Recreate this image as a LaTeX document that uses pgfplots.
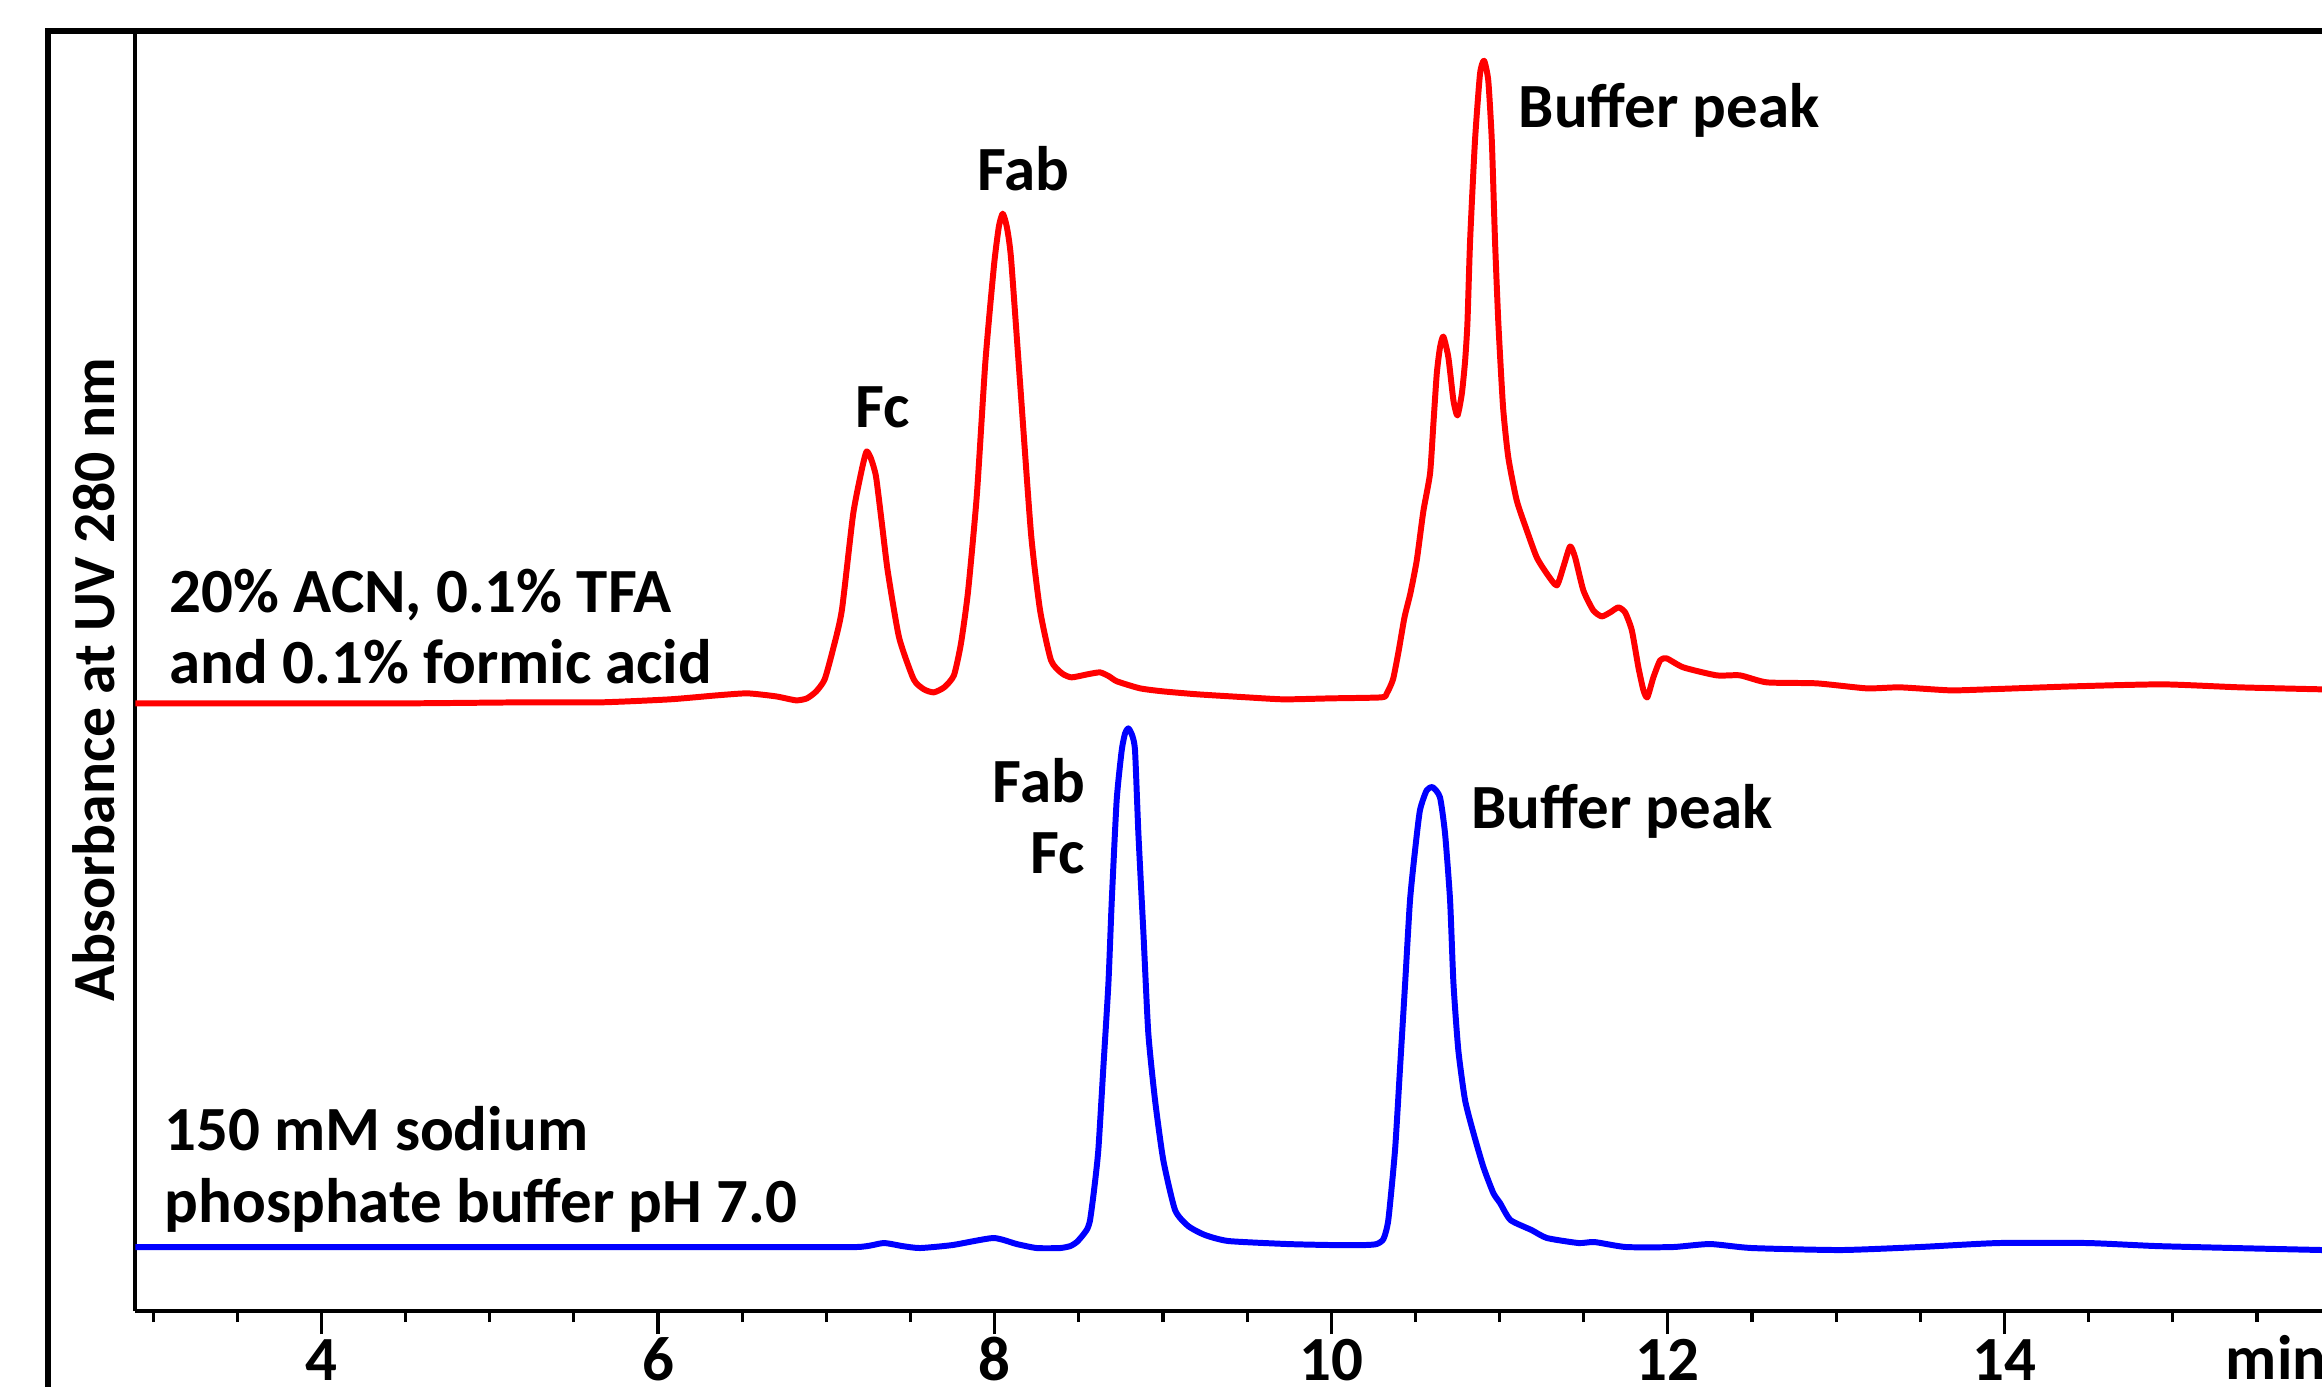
\documentclass[border=0pt]{standalone}
\usepackage{fontspec}
\setmainfont{Carlito}
\usepackage{pgfplots}
\pgfplotsset{compat=1.18}
\usepackage{pgfplotstable}

\newcommand{\lbl}{\fontsize{17.9}{20.4}\selectfont\bfseries}
\newcommand{\ylbl}{\fontsize{17}{20}\selectfont\bfseries}

% Chromatogram, 20% ACN / 0.1% TFA / 0.1% formic acid (offset trace)
\pgfplotstableread{
t v
2.894 608
3.5 608
4.5 608
5.2 609
5.66 609
6.07 612
6.35 616
6.53 618
6.7 615
6.82 611
6.885 613
6.94 620
6.99 632
7.041 663
7.092 701
7.159 797
7.212 843
7.239 860
7.265 853
7.295 835
7.33 788
7.365 740
7.432 674
7.519 632
7.58 622
7.638 619
7.70 624
7.758 636
7.80 668
7.842 720
7.894 816
7.945 950
7.996 1046
8.025 1085
8.048 1098
8.072 1085
8.097 1054
8.15 931
8.216 778
8.27 701
8.335 651
8.40 638
8.457 634
8.55 637
8.626 639
8.68 635
8.727 630
8.864 623
9.0 620
9.208 617
9.5 614
9.719 612
10.0 613
10.299 614
10.33 618
10.367 632
10.40 660
10.435 694
10.47 718
10.508 751
10.547 800
10.587 838
10.607 888
10.627 938
10.646 964
10.666 975
10.696 954
10.726 911
10.75 896
10.776 918
10.795 950
10.809 988
10.825 1071
10.854 1171
10.884 1238
10.908 1251
10.933 1231
10.954 1171
10.973 1071
10.993 988
11.021 904
11.052 854
11.102 811
11.162 781
11.221 754
11.28 738
11.34 726
11.38 745
11.419 765
11.449 754
11.498 721
11.557 701
11.607 695
11.657 699
11.706 704
11.746 699
11.786 681
11.825 644
11.855 621
11.878 614
11.914 634
11.954 651
11.993 653
12.092 644
12.29 636
12.429 636
12.588 629
12.885 628
13.182 623
13.38 624
13.677 621
13.9 622
14.41 625
14.94 627
15.4 624
15.887 622
}\acidtrace

% Chromatogram, 150 mM sodium phosphate buffer pH 7.0
\pgfplotstableread{
t v
2.894 64
5.0 64
6.5 64
7.18 64
7.339 68
7.45 65
7.557 63
7.75 66
7.992 73
8.131 67
8.25 63
8.389 63
8.45 65
8.488 69
8.52 75
8.55 82
8.567 91
8.59 120
8.616 161
8.646 244
8.676 328
8.696 411
8.725 511
8.755 561
8.775 578
8.794 583
8.815 577
8.834 561
8.854 478
8.884 378
8.913 278
8.953 211
9.002 151
9.072 101
9.15 85
9.25 76
9.39 70
9.74 67
10.0 66
10.2 66
10.27 67
10.31 72
10.339 91
10.379 161
10.409 244
10.439 328
10.468 411
10.498 461
10.527 501
10.567 521
10.603 524
10.646 514
10.676 478
10.706 411
10.726 328
10.755 261
10.795 211
10.845 178
10.904 144
10.963 118
11.003 108
11.065 91
11.19 81
11.282 73
11.47 68
11.564 69
11.751 64
12.031 64
12.25 67
12.499 63
13.028 61
13.496 64
13.963 68
14.493 68
14.898 65
15.365 63
15.887 61
}\phosphatetrace

\begin{document}
\begin{tikzpicture}
\useasboundingbox (-1.353,-0.75) rectangle (21.867,13.11);
\clip (-1.353,-0.75) rectangle (21.867,13.11);
\begin{axis}[
  x=1.683cm, y=0.01cm,
  xmin=2.894, xmax=15.887, ymin=0, ymax=1280,
  axis x line*=bottom, axis y line*=left,
  axis line style={line width=1.14pt, black},
  ytick=\empty,
  xtick={4,6,8,10,12,14},
  minor xtick={3,3.5,4.5,5,5.5,6.5,7,7.5,8.5,9,9.5,10.5,11,11.5,12.5,13,13.5,14.5,15,15.5},
  tick align=outside,
  major tick length=0.23cm, minor tick length=0.11cm,
  tick style={black, line width=0.9pt},
  /pgf/number format/assume math mode=true,
  xticklabel style={font=\lbl, anchor=base, inner sep=0pt, yshift=-0.46cm},
  clip=false,
]
\addplot[red, line width=1.7pt, line join=round, smooth, tension=0.35] table[x=t, y=v] {\acidtrace};
\addplot[blue, line width=1.7pt, line join=round, smooth, tension=0.35] table[x=t, y=v] {\phosphatetrace};

\begin{scope}[every node/.style={font=\lbl, inner sep=0pt}]
\node[anchor=base] at (axis cs:7.337,884) {Fc};
\node[anchor=base] at (axis cs:8.172,1121) {Fab};
\node[anchor=base west] at (axis cs:11.11,1184) {Buffer peak};
\node[anchor=base east] at (axis cs:8.54,509) {Fab};
\node[anchor=base east] at (axis cs:8.54,438) {Fc};
\node[anchor=base west] at (axis cs:10.83,483) {Buffer peak};
\node[anchor=base west] at (axis cs:3.095,699.3) {20\% ACN, 0.1\% TFA};
\node[anchor=base west] at (axis cs:3.095,627.7) {and 0.1\% formic acid};
\node[anchor=base west] at (axis cs:3.065,161) {150 mM sodium};
\node[anchor=base west] at (axis cs:3.065,89) {phosphate buffer pH 7.0};
\node[anchor=base west] at (axis cs:15.312,-69) {min};
\end{scope}
\end{axis}

% outer frame
\draw[line width=1.7pt, black] (-0.873,-2) -- (-0.873,12.80) -- (23,12.80);
% ordinate title
\node[rotate=90, anchor=base, font=\ylbl, inner sep=0pt] at (-0.203,6.31) {Absorbance at UV 280 nm};
\end{tikzpicture}
\end{document}
